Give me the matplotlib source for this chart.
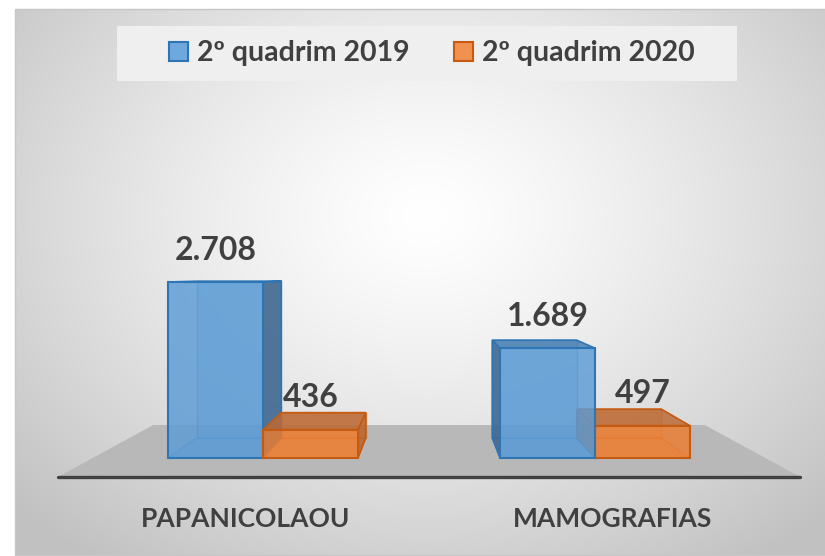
import numpy as np
import matplotlib.pyplot as plt
from matplotlib.patches import Polygon, Rectangle, Patch
from matplotlib.colors import to_rgba

# dados
categorias = ['PAPANICOLAOU', 'MAMOGRAFIAS']
series = ['2º quadrim 2019', '2º quadrim 2020']
valores_2019 = [2708, 1689]
valores_2020 = [436, 497]
rotulos_2019 = ['2.708', '1.689']
rotulos_2020 = ['436', '497']

plt.rcParams['font.family'] = ['Lato', 'DejaVu Sans']
texto = '#404040'

W, H = 825, 556
fig = plt.figure(figsize=(W / 100, H / 100), dpi=100)

# fundo com degrade radial
yy, xx = np.mgrid[0:H, 0:W]
r = np.sqrt(((xx - 425) / 560.0) ** 2 + ((yy - 215) / 430.0) ** 2)
g = 255 - 62 * np.clip(r, 0, 1) ** 1.3
g[(xx < 15) | (yy < 9) | (yy > 554)] = 255
bg = fig.add_axes([0, 0, 1, 1], zorder=0)
bg.imshow(np.dstack([g, g, g]) / 255.0, extent=(0, W, H, 0), aspect='auto',
          interpolation='bilinear')
bg.add_patch(Rectangle((15, 9), W, 546, fill=False, ec='#c6c6c6', lw=1))
bg.add_patch(Rectangle((117, 26), 620, 55, fc='#efefef', ec='none'))  # caixa da legenda
bg.set_xlim(0, W)
bg.set_ylim(H, 0)
bg.axis('off')

ax = fig.add_axes([0, 0, 1, 1], zorder=1)
ax.patch.set_alpha(0)
ax.set_xlim(-0.7922, 1.6928)
ax.set_ylim(-1508, 7047)
ax.axis('off')

# perspectiva
vx, vy = 0.5, 2816     # ponto de fuga
k = 0.89               # fundo das barras
sf, sb = 1.104, 0.82   # frente e fundo do piso


def proj(x, v, s):
    return vx + (x - vx) * s, vy + (v - vy) * s


# piso
fx0, fx1 = -0.513, 1.513
piso = [proj(fx0, 0, sf), proj(fx1, 0, sf), proj(fx1, 0, sb), proj(fx0, 0, sb)]
ax.add_patch(Polygon(piso, closed=True, fc='#b8b8b8', ec='none', zorder=1))
ax.plot([piso[0][0], piso[1][0]], [piso[0][1], piso[1][1]], color='#404040',
        lw=2.4, solid_capstyle='round', zorder=2)


def face(pts, fc, alpha, ec, lw, z):
    ax.add_patch(Polygon([proj(*p) for p in pts], closed=True,
                         fc=to_rgba(fc, alpha), ec=to_rgba(ec, min(1, alpha + 0.2)),
                         lw=lw, zorder=z))


def caixa(x0, x1, h, cor, cor_lado, cor_topo, borda, z):
    face([(x0, 0, k), (x1, 0, k), (x1, h, k), (x0, h, k)], cor, 0.3, borda, 1, z)
    face([(x0, 0, 1), (x1, 0, 1), (x1, 0, k), (x0, 0, k)], cor, 0.3, borda, 1, z)
    xs = x1 if (x0 + x1) / 2 < vx else x0
    face([(xs, 0, 1), (xs, h, 1), (xs, h, k), (xs, 0, k)], cor_lado, 0.85, borda, 1.2, z)
    face([(x0, h, 1), (x1, h, 1), (x1, h, k), (x0, h, k)], cor_topo, 0.85, borda, 1.2, z)


x = np.arange(len(categorias))
w = 0.286
estilo = [
    dict(cor='#5b9bd5', lado='#3d648c', topo='#4a7fb0', borda='#2e75b6'),
    dict(cor='#ed7d31', lado='#b8652c', topo='#bb6a36', borda='#c55a11'),
]

for j, (vals, rots) in enumerate([(valores_2019, rotulos_2019), (valores_2020, rotulos_2020)]):
    xc = x + (j - 0.5) * w
    st = estilo[j]
    barras = ax.bar(xc, vals, w, color=to_rgba(st['cor'], 0.82), edgecolor=st['borda'], lw=1.5)
    for xi, v, b, rot in zip(xc, vals, barras, rots):
        z = 3 if abs(xi - vx) > 0.5 else 6
        caixa(xi - w / 2, xi + w / 2, v, st['cor'], st['lado'], st['topo'], st['borda'], z)
        b.set_zorder(z + 1)
        ax.annotate(rot, (xi, v), xytext=(0, 16), textcoords='offset points',
                    ha='center', va='baseline', fontsize=23, fontweight='bold',
                    color=texto, zorder=10)

for xi, nome in zip(x, categorias):
    ax.annotate(nome, proj(xi, 0, sf), xytext=(0, -36), textcoords='offset points',
                ha='center', va='baseline', fontsize=19, fontweight='bold', color=texto)

handles = [Patch(fc='#6fa8dc', ec='#2e75b6', lw=1.5), Patch(fc='#f0914f', ec='#c55a11', lw=1.5)]
fig.legend(handles, series, loc='center', bbox_to_anchor=(432 / W, 1 - 53.5 / H), ncol=2,
           frameon=False, prop={'weight': 'bold', 'size': 20.5}, labelcolor=texto,
           handlelength=0.66, handleheight=0.66, handletextpad=0.32, columnspacing=1.55)

fig.savefig('out.png', dpi=100)
